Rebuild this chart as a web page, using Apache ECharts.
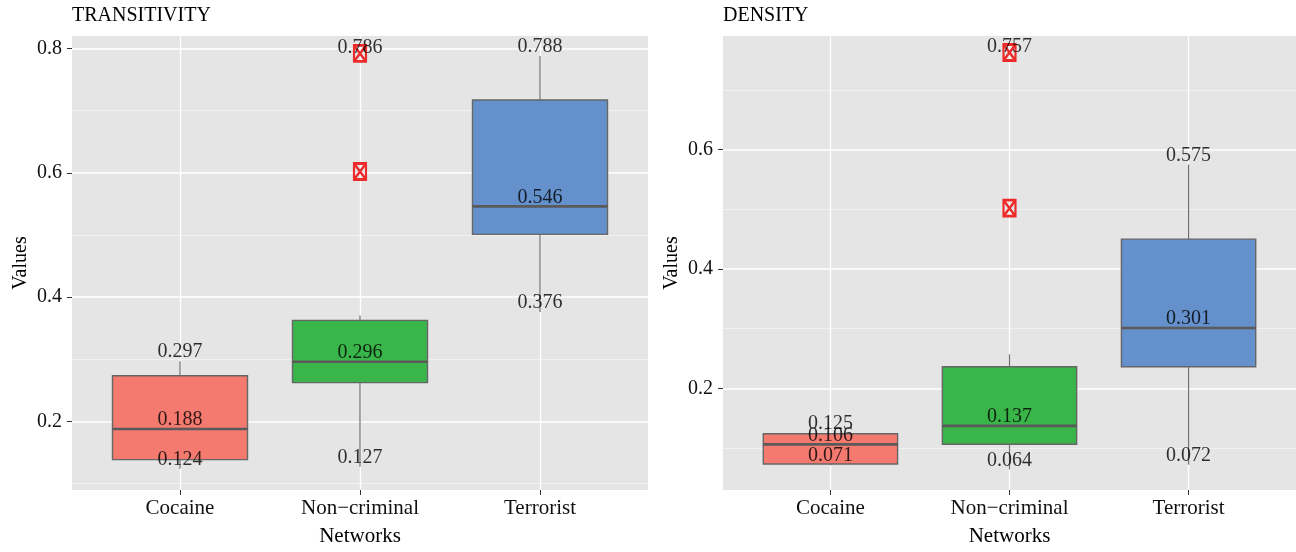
<!DOCTYPE html>
<html><head><meta charset="utf-8">
<script src="https://cdn.jsdelivr.net/npm/echarts@6/dist/echarts.min.js"></script>
<style>html,body{margin:0;padding:0;background:#fff}#c{width:1296px;height:552px}</style>
</head><body><div id="c"></div>
<script>
// ---- data ----
const categories = ['Cocaine', 'Non\u2212criminal', 'Terrorist'];

// TRANSITIVITY
const transMin    = [0.124, 0.127, 0.376];
const transQ1     = [0.1386, 0.2625, 0.501];
const transMedian = [0.188, 0.296, 0.546];
const transQ3     = [0.2736, 0.3626, 0.717];
const transMax    = [0.297, 0.3706, 0.788];
const transOutlierCategory = 2;
const transOutliers = [0.792, 0.602];
const transLabels = [[0.297, 0.188, 0.124], [0.786, 0.296, 0.127], [0.788, 0.546, 0.376]];
const transTicks = [0.2, 0.4, 0.6, 0.8];
const transMinorTicks = [0.1, 0.3, 0.5, 0.7];

// DENSITY
const densMin    = [0.071, 0.064, 0.072];
const densQ1     = [0.0732, 0.1063, 0.236];
const densMedian = [0.106, 0.137, 0.301];
const densQ3     = [0.1238, 0.236, 0.450];
const densMax    = [0.125, 0.257, 0.575];
const densOutlierCategory = 2;
const densOutliers = [0.763, 0.502];
const densLabels = [[0.125, 0.106, 0.071], [0.757, 0.137, 0.064], [0.575, 0.301, 0.072]];
const densTicks = [0.2, 0.4, 0.6];
const densMinorTicks = [0.1, 0.3, 0.5, 0.7];

// ---- styling ----
const FONT = '"Liberation Serif","DejaVu Serif",serif';
const fills = ['#F47A70', '#3AB54A', '#6490CC'];
const catPositions = categories.map((c, i) => i + 1);

function boxData(mn, q1, md, q3, mx) {
  return categories.map((c, i) => [i + 1, mn[i], q1[i], md[i], q3[i], mx[i]]);
}
function labelData(lv) {
  const out = [];
  lv.forEach((arr, i) => arr.forEach(v => out.push([i + 1, v])));
  return out;
}
function renderBox(params, api) {
  const x = api.value(0);
  const i = params.dataIndex;
  const pMin = api.coord([x, api.value(1)]);
  const pQ1 = api.coord([x, api.value(2)]);
  const pMed = api.coord([x, api.value(3)]);
  const pQ3 = api.coord([x, api.value(4)]);
  const pMax = api.coord([x, api.value(5)]);
  const w = api.size([0.75, 0])[0];
  const cx = pMed[0];
  const l = cx - w / 2;
  const ws = { stroke: '#707070', lineWidth: 1.2 };
  return { type: 'group', children: [
    { type: 'line', shape: { x1: cx, y1: pMax[1], x2: cx, y2: pQ3[1] }, style: ws },
    { type: 'line', shape: { x1: cx, y1: pQ1[1], x2: cx, y2: pMin[1] }, style: ws },
    { type: 'rect', shape: { x: l, y: pQ3[1], width: w, height: pQ1[1] - pQ3[1] },
      style: { fill: fills[i], stroke: '#666666', lineWidth: 1.4 } },
    { type: 'line', shape: { x1: l, y1: pMed[1], x2: l + w, y2: pMed[1] },
      style: { stroke: '#5a5a5a', lineWidth: 2.6 } }
  ]};
}

const grids = [
  { left: 72, top: 36, width: 576, height: 459.7 },
  { left: 723, top: 36, width: 573, height: 459.7 }
];
const yRanges = [[0.0898, 0.8200], [0.0295, 0.7906]];
const majors = [transTicks, densTicks];
const minors = [transMinorTicks, densMinorTicks];

const xAxes = [], yAxes = [];
[0, 1].forEach(g => {
  xAxes.push({
    gridIndex: g, type: 'value', min: 0.4, max: 3.6,
    axisLine: { show: false },
    axisTick: { show: true, customValues: catPositions, length: 5, lineStyle: { color: '#333', width: 1 } },
    axisLabel: { customValues: catPositions, formatter: v => categories[Math.round(v) - 1], margin: 8,
      fontFamily: FONT, fontSize: 21, color: '#111' },
    splitLine: { show: true, lineStyle: { color: '#ffffff', width: 1.3 } },
    name: 'Networks', nameLocation: 'middle', nameGap: 36,
    nameTextStyle: { fontFamily: FONT, fontSize: 21, color: '#000' }
  });
  yAxes.push({
    gridIndex: g, type: 'value', min: yRanges[g][0], max: yRanges[g][1],
    axisLine: { show: false },
    axisTick: { show: true, customValues: majors[g], length: 5, lineStyle: { color: '#333', width: 1 } },
    axisLabel: { customValues: majors[g], formatter: v => v.toFixed(1), margin: 10,
      fontFamily: FONT, fontSize: 20, color: '#111' },
    splitLine: { show: true, lineStyle: { color: '#ffffff', width: 1.5 } },
    name: 'Values', nameLocation: 'middle', nameGap: 41,
    nameTextStyle: { fontFamily: FONT, fontSize: 20, color: '#000' }
  });
});
[0, 1].forEach(g => {
  yAxes.push({
    gridIndex: g, type: 'value', min: yRanges[g][0], max: yRanges[g][1],
    axisLine: { show: false },
    axisTick: { show: false, customValues: minors[g] },
    axisLabel: { show: false, customValues: minors[g] },
    splitLine: { show: true, lineStyle: { color: '#f4f4f4', width: 0.8 } }
  });
});

const panels = [
  { box: boxData(transMin, transQ1, transMedian, transQ3, transMax), labels: transLabels,
    outCat: transOutlierCategory, outliers: transOutliers },
  { box: boxData(densMin, densQ1, densMedian, densQ3, densMax), labels: densLabels,
    outCat: densOutlierCategory, outliers: densOutliers }
];
const series = [];
panels.forEach((p, g) => {
  series.push({ type: 'custom', xAxisIndex: g, yAxisIndex: g, renderItem: renderBox,
    data: p.box, z: 3, silent: true });
  series.push({ type: 'scatter', xAxisIndex: g, yAxisIndex: g,
    data: p.outliers.map(v => [p.outCat, v]),
    symbol: 'path://M0,0L12,0L12,16L0,16Z M0,0L12,16 M12,0L0,16', symbolSize: [12, 16],
    itemStyle: { color: 'rgba(0,0,0,0)', borderColor: '#EE2B2B', borderWidth: 2.5, opacity: 1 },
    z: 4, silent: true });
  series.push({ type: 'scatter', xAxisIndex: g, yAxisIndex: g, data: labelData(p.labels),
    symbolSize: 1, itemStyle: { color: 'rgba(0,0,0,0)' },
    label: { show: true, position: 'inside', offset: [0, -9], formatter: q => q.value[1].toFixed(3),
      fontFamily: FONT, fontSize: 20, color: '#000' },
    z: 5, silent: true });
});

const chart = echarts.init(document.getElementById('c'));
chart.setOption({
  animation: false,
  backgroundColor: '#ffffff',
  title: [
    { text: 'TRANSITIVITY', left: 72, top: 6, padding: 0, textStyle: { fontFamily: FONT, fontSize: 20, fontWeight: 'normal', color: '#000' } },
    { text: 'DENSITY', left: 723, top: 6, padding: 0, textStyle: { fontFamily: FONT, fontSize: 20, fontWeight: 'normal', color: '#000' } }
  ],
  grid: grids.map(g => Object.assign({ show: true, backgroundColor: '#E5E5E5', borderWidth: 0, containLabel: false }, g)),
  xAxis: xAxes,
  yAxis: yAxes,
  series: series
});
</script></body></html>
